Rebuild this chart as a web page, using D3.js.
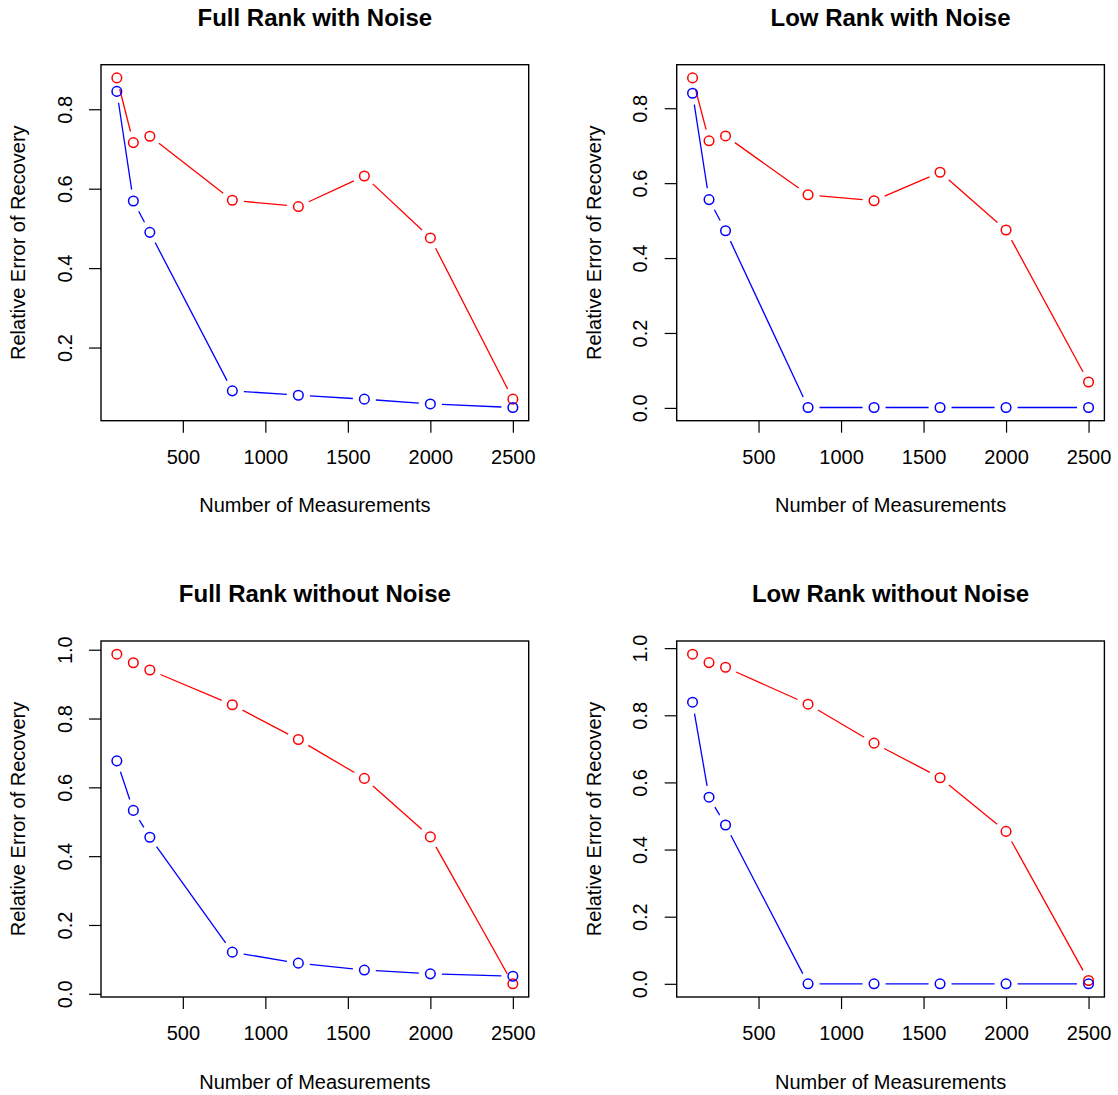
<!DOCTYPE html>
<html>
<head>
<meta charset="utf-8">
<script src="https://cdn.jsdelivr.net/npm/d3@7"></script>
<style>
  body { margin: 0; background: #fff; }
  svg { display: block; font-family: "Liberation Sans", Arial, Helvetica, sans-serif; }
</style>
</head>
<body>
<svg width="1118" height="1095"></svg>
<script>
// x values shared by every panel
const measurements = [100, 200, 300, 800, 1200, 1600, 2000, 2500];

const titles = [
  'Full Rank with Noise',
  'Low Rank with Noise',
  'Full Rank without Noise',
  'Low Rank without Noise'
];

// red series
const fullNoiseRed = [0.879, 0.716, 0.732, 0.571, 0.555, 0.632, 0.476, 0.070];
const lowNoiseRed = [0.881, 0.713, 0.726, 0.569, 0.553, 0.629, 0.475, 0.069];
const fullCleanRed = [0.987, 0.962, 0.941, 0.840, 0.739, 0.626, 0.456, 0.029];
const lowCleanRed = [0.982, 0.957, 0.943, 0.833, 0.717, 0.614, 0.454, 0.010];

// blue series
const fullNoiseBlue = [0.845, 0.569, 0.490, 0.091, 0.080, 0.070, 0.058, 0.049];
const lowNoiseBlue = [0.840, 0.556, 0.473, 0.001, 0.001, 0.001, 0.001, 0.001];
const fullCleanBlue = [0.677, 0.533, 0.455, 0.121, 0.089, 0.069, 0.058, 0.051];
const lowCleanBlue = [0.839, 0.556, 0.473, 0.000, 0.000, 0.000, 0.000, 0.000];

const xLabel = 'Number of Measurements';
const yLabel = 'Relative Error of Recovery';

const panels = [
  { title: titles[0], red: fullNoiseRed, blue: fullNoiseBlue, left: 101, top: 64.7 },
  { title: titles[1], red: lowNoiseRed, blue: lowNoiseBlue, left: 676.7, top: 64.7 },
  { title: titles[2], red: fullCleanRed, blue: fullCleanBlue, left: 101, top: 641 },
  { title: titles[3], red: lowCleanRed, blue: lowCleanBlue, left: 676.7, top: 641 }
];

const boxW = 427.7;
const boxH = 356;
const gap = 11.5;   // type="b" style gap around points
const svg = d3.select('svg');

// R style 4% padding on the data range
function padded(ext) {
  let p = (ext[1] - ext[0]) * 0.04;
  return [ext[0] - p, ext[1] + p];
}

function drawSeries(g, x, y, vals, color) {
  let pts = measurements.map((m, i) => [x(m), y(vals[i])]);
  for (let i = 0; i < pts.length - 1; i++) {
    let [x0, y0] = pts[i];
    let [x1, y1] = pts[i + 1];
    let len = Math.hypot(x1 - x0, y1 - y0);
    if (len <= 2 * gap) continue;
    let ux = (x1 - x0) / len, uy = (y1 - y0) / len;
    g.append('line')
      .attr('x1', x0 + ux * gap).attr('y1', y0 + uy * gap)
      .attr('x2', x1 - ux * gap).attr('y2', y1 - uy * gap)
      .attr('stroke', color)
      .attr('stroke-width', 1.3);
  }
  g.selectAll(null)
    .data(pts)
    .join('circle')
    .attr('cx', d => d[0])
    .attr('cy', d => d[1])
    .attr('r', 4.8)
    .attr('fill', 'none')
    .attr('stroke', color)
    .attr('stroke-width', 1.5);
}

panels.forEach(p => {
  let g = svg.append('g');
  let x = d3.scaleLinear()
    .domain(padded(d3.extent(measurements)))
    .range([p.left, p.left + boxW]);
  let y = d3.scaleLinear()
    .domain(padded(d3.extent(p.red.concat(p.blue))))
    .range([p.top + boxH, p.top]);

  // x axis
  let xa = g.append('g')
    .attr('transform', `translate(0,${p.top + boxH})`)
    .call(d3.axisBottom(x).tickValues(x.ticks(5)).tickSize(12).tickPadding(17).tickFormat(d3.format('d')));
  xa.select('.domain').remove();
  xa.selectAll('line').attr('stroke', '#000').attr('stroke-width', 1.2);
  xa.selectAll('text').attr('font-size', 20).attr('fill', '#000')
    .attr('font-family', '"Liberation Sans", Arial, sans-serif');

  // y axis
  let ya = g.append('g')
    .attr('transform', `translate(${p.left},0)`)
    .call(d3.axisLeft(y).tickValues(y.ticks(5)).tickSize(12).tickFormat(d3.format('.1f')));
  ya.select('.domain').remove();
  ya.selectAll('line').attr('stroke', '#000').attr('stroke-width', 1.2);
  ya.selectAll('text')
    .attr('x', 0).attr('dy', 0)
    .attr('text-anchor', 'middle')
    .attr('transform', 'translate(-29.3,0) rotate(-90)')
    .attr('font-size', 20).attr('fill', '#000')
    .attr('font-family', '"Liberation Sans", Arial, sans-serif');

  // box
  g.append('rect')
    .attr('x', p.left).attr('y', p.top)
    .attr('width', boxW).attr('height', boxH)
    .attr('fill', 'none')
    .attr('stroke', '#000')
    .attr('stroke-width', 1.4);

  drawSeries(g, x, y, p.red, '#ff0000');
  drawSeries(g, x, y, p.blue, '#0000ff');

  // title and axis titles
  g.append('text')
    .attr('x', p.left + boxW / 2)
    .attr('y', p.top - 38.7)
    .attr('text-anchor', 'middle')
    .attr('font-size', 24)
    .attr('font-weight', 'bold')
    .text(p.title);

  g.append('text')
    .attr('x', p.left + boxW / 2)
    .attr('y', p.top + boxH + 91.5)
    .attr('text-anchor', 'middle')
    .attr('font-size', 20)
    .text(xLabel);

  g.append('text')
    .attr('transform', `translate(${p.left - 76},${p.top + boxH / 2}) rotate(-90)`)
    .attr('text-anchor', 'middle')
    .attr('font-size', 20)
    .text(yLabel);
});
</script>
</body>
</html>
